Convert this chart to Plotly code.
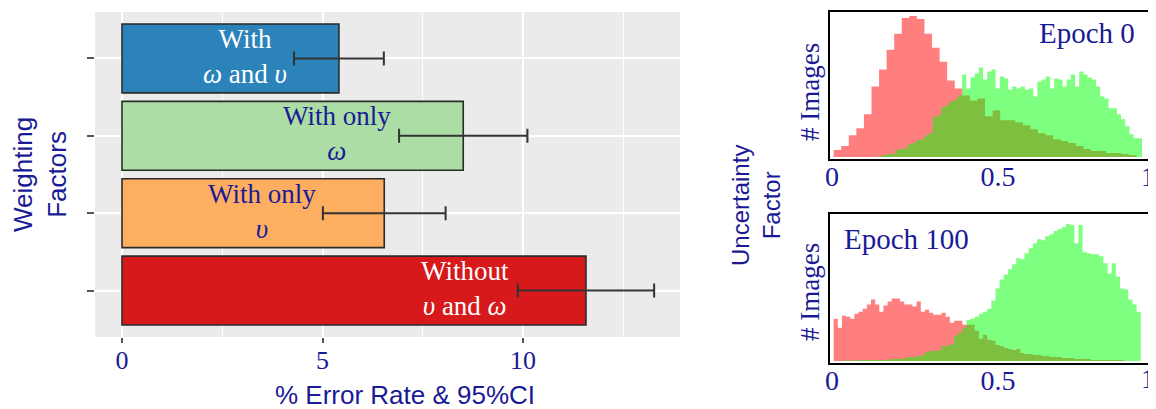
import plotly.graph_objects as go

# ---------------- left panel data ----------------
factors = ["With ω and υ", "With only ω", "With only υ", "Without υ and ω"]
error_rate = [5.41, 8.51, 6.54, 11.57]
ci_half = [1.12, 1.60, 1.53, 1.70]
bar_labels = ["With<br><i>ω</i> and <i>υ</i>", "With only<br><i>ω</i>",
              "With only<br><i>υ</i>", "Without<br><i>υ</i> and <i>ω</i>"]
x_ticks = [0, 5, 10]
x_minor = [2.5, 7.5, 12.5]

# ---------------- right panel data ----------------
uncert_ticks = [0, 0.5]
uncert_ticktext = ["0", "0.5"]

epoch0_red_start, epoch0_red_width = 0.005, 0.0228
epoch0_red = [7, 11, 22, 29, 43, 71, 88, 108, 124, 140, 142, 139, 124, 110, 96, 77, 69, 62, 57, 59,
              41, 47, 37, 37, 35, 32, 28, 24, 22, 18, 16, 14, 11, 8, 6, 6, 4, 4, 3, 2]

epoch0_green_start, epoch0_green_width = 0.14, 0.0126
epoch0_green = [1, 2, 3, 3, 7, 8, 9, 13, 14, 17, 18, 22, 24, 40, 42, 50, 52, 56, 58, 62,
                83, 69, 80, 84, 90, 78, 86, 88, 69, 81, 79, 68, 71, 69, 71, 68, 69, 61, 76, 78,
                81, 69, 79, 78, 71, 78, 83, 71, 86, 83, 80, 78, 71, 61, 59, 49, 49, 43, 38, 31,
                23, 19, 19]

epoch100_start, epoch100_width = 0.005, 0.0125
epoch100_red = [42, 33, 45, 44, 42, 47, 49, 52, 56, 61, 56, 49, 55, 59, 62, 62, 59, 56, 56, 54,
                59, 49, 51, 48, 46, 46, 48, 44, 38, 40, 40, 36, 36, 36, 30, 22, 26, 21, 20, 16,
                15, 13, 12, 11, 12, 8, 7, 7, 6, 6, 5, 5, 4, 4, 4, 3, 3, 3, 2, 2,
                2, 2, 1, 1, 1, 1, 1, 1, 1, 1, 0, 0, 0, 0]
epoch100_green = [0, 0, 0.5, 0.5, 0.5, 0.5, 1, 1, 1, 1, 1,
                  1, 1, 1.5, 2, 2, 2, 3, 4, 4, 5, 6,
                  9, 10, 10, 11, 15, 15, 17, 25, 28, 33,
                  41, 42, 44, 47, 49, 52, 60, 72, 81, 86,
                  91, 96, 102, 101, 107, 112, 117, 121, 120, 124,
                  126, 129, 131, 133, 136, 135, 117, 135, 108, 107,
                  106, 106, 104, 97, 87, 97, 84, 72, 71, 61, 56, 49]

# ---------------- styles ----------------
NAVY = "#1a1a96"
BAR_COLORS = ["#2b83ba", "#abdda4", "#fdae61", "#d7191c"]
LABEL_COLORS = ["white", NAVY, NAVY, "white"]
LABEL_X = [3.07, 5.37, 3.49, 8.55]
SERIF = "Liberation Serif, DejaVu Serif, serif"
SANS = "Liberation Sans, Arial, sans-serif"
RED_FILL = "rgba(255,0,0,0.5)"
GREEN_FILL = "rgba(0,255,0,0.5)"

W, H = 1156, 409
OFF = 8  # page body margin of the html


def px(xp):
    return (xp - OFF) / W


def py(yp):
    return 1 - (yp - OFF) / H


def step_xy(start, width, heights):
    edges = [start + width * i for i in range(len(heights) + 1)]
    ys = list(heights) + [heights[-1]]
    return edges, ys


fig = go.Figure()

fig.add_trace(go.Bar(
    x=error_rate, y=factors, orientation="h", width=0.89,
    marker=dict(color=BAR_COLORS, line=dict(color="#2b2b2b", width=1.6)),
    error_x=dict(type="data", array=ci_half, color="#333333", thickness=2, width=7),
    xaxis="x", yaxis="y", hoverinfo="skip",
))

for (start, width, heights, color, xa, ya) in [
    (epoch0_red_start, epoch0_red_width, epoch0_red, RED_FILL, "x2", "y2"),
    (epoch0_green_start, epoch0_green_width, epoch0_green, GREEN_FILL, "x2", "y2"),
    (epoch100_start, epoch100_width, epoch100_red, RED_FILL, "x3", "y3"),
    (epoch100_start, epoch100_width, epoch100_green, GREEN_FILL, "x3", "y3"),
]:
    xs, ys = step_xy(start, width, heights)
    fig.add_trace(go.Scatter(
        x=xs, y=ys, mode="lines", line=dict(width=0, shape="hv"),
        fill="tozeroy", fillcolor=color, xaxis=xa, yaxis=ya, hoverinfo="skip",
    ))

hist_axis_x = dict(range=[-0.006, 0.97], tickvals=uncert_ticks, ticktext=uncert_ticktext,
                   ticks="", showgrid=False, zeroline=False, showline=True, mirror=True,
                   linecolor="black", linewidth=1.5, automargin=False, ticklabelstandoff=-8,
                   tickfont=dict(family=SERIF, size=28, color=NAVY))
hist_axis_y = dict(range=[-2, 146], showticklabels=False, ticks="", showgrid=False,
                   zeroline=False, showline=True, mirror=True, linecolor="black", linewidth=1.5,
                   automargin=False)

fig.update_layout(
    width=W, height=H, autosize=False,
    margin=dict(l=0, r=0, t=0, b=0, pad=0),
    paper_bgcolor="white", plot_bgcolor="white", showlegend=False,
    xaxis=dict(domain=[px(95), px(680)], range=[-0.673, 13.915], tickvals=x_ticks,
               ticks="outside", ticklen=5, tickwidth=1.5, tickcolor="#555555",
               ticklabelstandoff=-5,
               tickfont=dict(family=SERIF, size=26, color=NAVY),
               showgrid=True, gridcolor="white", gridwidth=1.6,
               minor=dict(tickvals=x_minor, showgrid=True, gridcolor="white", gridwidth=1, ticks=""),
               zeroline=False, showline=False, anchor="y", automargin=False),
    yaxis=dict(domain=[py(337), py(12)], range=[-0.6, 3.6], type="category",
               categoryorder="array", categoryarray=factors[::-1],
               ticks="outside", ticklen=7, tickwidth=1.5, tickcolor="#555555",
               showticklabels=False, showgrid=True, gridcolor="white", gridwidth=1.6,
               zeroline=False, anchor="x", automargin=False),
    xaxis2=dict(domain=[px(830), px(1154)], anchor="y2", **hist_axis_x),
    yaxis2=dict(domain=[py(159), py(12)], anchor="x2", **hist_axis_y),
    xaxis3=dict(domain=[px(830), px(1154)], anchor="y3", **hist_axis_x),
    yaxis3=dict(domain=[py(363), py(214)], anchor="x3", **hist_axis_y),
    shapes=[dict(type="rect", xref="x domain", yref="y domain", x0=0, x1=1, y0=0, y1=1,
                 fillcolor="#ebebeb", line=dict(width=0), layer="below")],
)

ann = []
for i, f in enumerate(factors):
    ann.append(dict(x=LABEL_X[i], y=f, xref="x", yref="y", text=bar_labels[i], showarrow=False,
                    font=dict(family=SERIF, size=27, color=LABEL_COLORS[i]),
                    xanchor="center", yanchor="middle", yshift=2))

ann += [
    dict(x=px(405), y=py(395), xref="paper", yref="paper", text="% Error Rate & 95%CI",
         showarrow=False, font=dict(family=SANS, size=26, color=NAVY), xanchor="center", yanchor="middle"),
    dict(x=px(40), y=py(175), xref="paper", yref="paper", text="Weighting<br>Factors",
         textangle=-90, showarrow=False, font=dict(family=SANS, size=26, color=NAVY),
         xanchor="center", yanchor="middle"),
    dict(x=px(756), y=py(206), xref="paper", yref="paper", text="Uncertainty<br>Factor",
         textangle=-90, showarrow=False, font=dict(family=SANS, size=24, color=NAVY),
         xanchor="center", yanchor="middle"),
    dict(x=px(810), y=py(92), xref="paper", yref="paper", text="# Images",
         textangle=-90, showarrow=False, font=dict(family=SERIF, size=27, color=NAVY),
         xanchor="center", yanchor="middle"),
    dict(x=px(810), y=py(292), xref="paper", yref="paper", text="# Images",
         textangle=-90, showarrow=False, font=dict(family=SERIF, size=27, color=NAVY),
         xanchor="center", yanchor="middle"),
    dict(x=px(1087), y=py(33), xref="paper", yref="paper", text="Epoch 0",
         showarrow=False, font=dict(family=SERIF, size=29, color=NAVY), xanchor="center", yanchor="middle"),
    dict(x=px(906), y=py(239), xref="paper", yref="paper", text="Epoch 100",
         showarrow=False, font=dict(family=SERIF, size=29, color=NAVY), xanchor="center", yanchor="middle"),
    dict(x=px(1157), y=py(176), xref="paper", yref="paper", text="1",
         showarrow=False, font=dict(family=SERIF, size=28, color=NAVY), xanchor="right", yanchor="middle"),
    dict(x=px(1157), y=py(378), xref="paper", yref="paper", text="1",
         showarrow=False, font=dict(family=SERIF, size=28, color=NAVY), xanchor="right", yanchor="middle"),
]
fig.update_layout(annotations=ann)

fig.write_html("out.html")
